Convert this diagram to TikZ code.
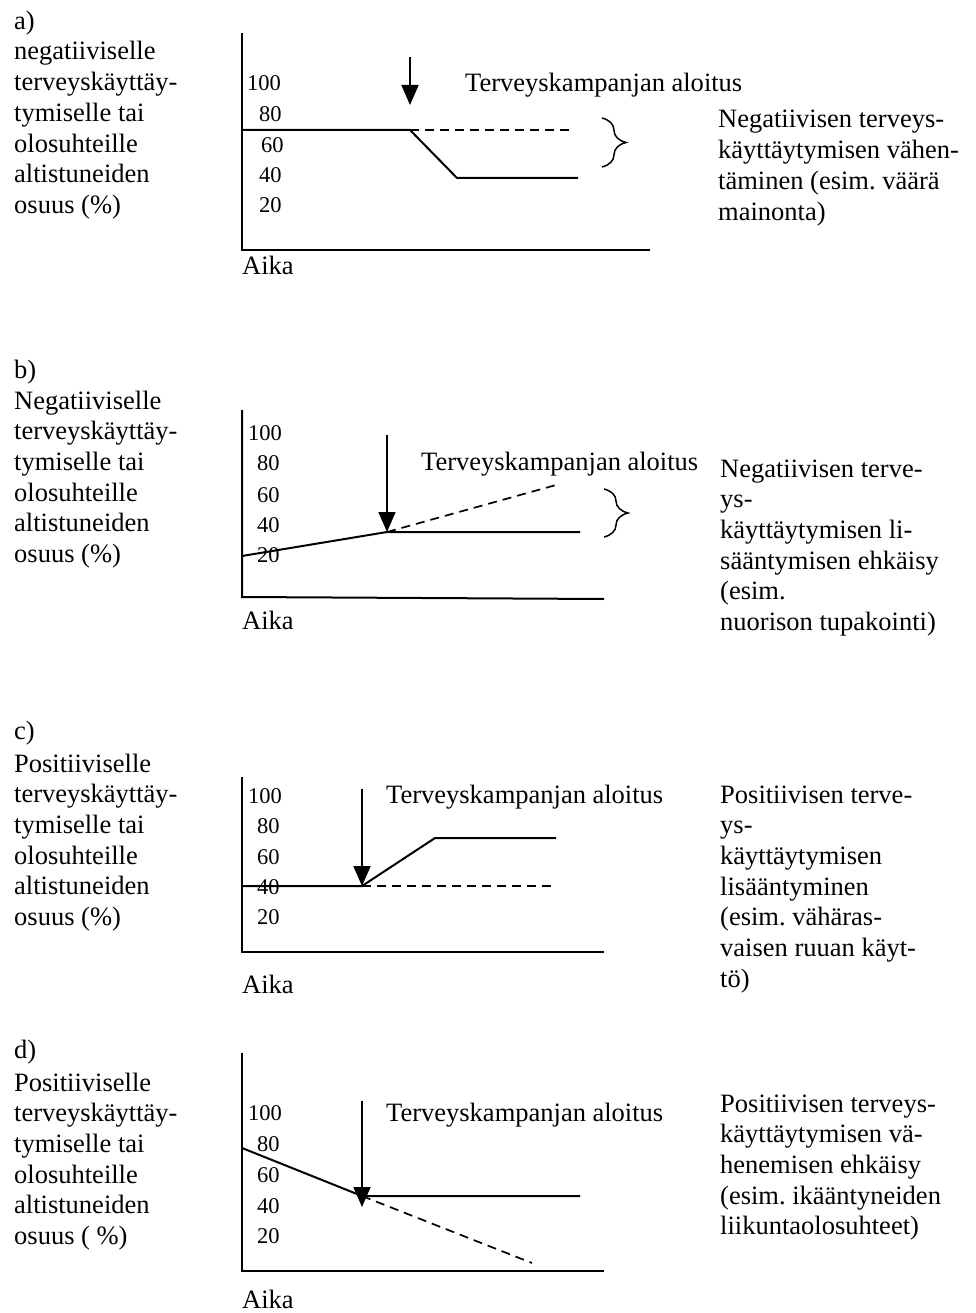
\documentclass[tikz,border=0pt]{standalone}
\usepackage{fontspec}
\setmainfont{Liberation Serif}
\usepackage{tikz}
\usepackage{xcolor}
\usetikzlibrary{arrows.meta,decorations.pathreplacing}
\frenchspacing

\tikzset{
  % multi-line blocks: base west is the baseline of the last line
  txt/.style={anchor=base west,align=left,inner sep=0pt},
  ticklbl/.style={anchor=base west,inner sep=0pt,font=\fontsize{22.5}{27}\selectfont},
  axisline/.style={line width=2pt},
  trend/.style={line width=2pt},
  oldtrend/.style={line width=1.7pt,dash pattern=on 9pt off 6pt},
  startarrow/.style={line width=1.8pt,-{Triangle[length=20pt,width=17pt]}},
  bracket/.style={line width=1.5pt,decorate,decoration={brace,amplitude=24pt}}
}

\begin{document}
\begin{tikzpicture}[x=1pt,y=-1pt,every node/.style={font=\fontsize{26.5}{30.7}\selectfont}]
\useasboundingbox (0,0) rectangle (976,1313);
% a)
\node[txt] (a-tag) at (14,30) {a)};
\node[txt] (a-ylab) at (14,213.5) {negatiiviselle\\terveyskäyttäy-\\tymiselle tai\\olosuhteille\\altistuneiden\\osuus (\%)};
\draw[axisline] (242,33) -- (242,250) -- (650,250);
\node[ticklbl] (a-100) at (247,91) {100};
\node[ticklbl] (a-80) at (259,122) {80};
\node[ticklbl] (a-60) at (261,153) {60};
\node[ticklbl] (a-40) at (259,183) {40};
\node[ticklbl] (a-20) at (259,213) {20};
\node[txt] (a-start) at (465,92) {Terveyskampanjan aloitus};
\coordinate (a-top) at (410,57);
\coordinate (a-turn) at (410,130);
\draw[startarrow] (a-top) -- (410,105);
\draw[trend] (242,130) -- (a-turn) -- (457,178) -- (578,178);
\draw[oldtrend] (a-turn) -- (570,130);
\draw[bracket] (602,118) -- (602,167);
\node[txt] (a-note) at (718,220.1) {Negatiivisen terveys-\\käyttäytymisen vähen-\\täminen (esim. väärä\\mainonta)};
\node[txt] (a-time) at (242,275) {Aika};
% b)
\node[txt] (b-tag) at (14,378) {b)};
\node[txt] (b-ylab) at (14,562.5) {Negatiiviselle\\terveyskäyttäy-\\tymiselle tai\\olosuhteille\\altistuneiden\\osuus (\%)};
\draw[axisline] (242,410) -- (242,597) -- (604,599);
\node[ticklbl] (b-100) at (248,440) {100};
\node[ticklbl] (b-80) at (257,470) {80};
\node[ticklbl] (b-60) at (257,502) {60};
\node[ticklbl] (b-40) at (257,532) {40};
\node[ticklbl] (b-20) at (257,562) {20};
\node[txt] (b-start) at (421,470) {Terveyskampanjan aloitus};
\coordinate (b-turn) at (387,532);
\draw[startarrow] (387,435) -- (b-turn);
\draw[trend] (242,556) -- (b-turn) -- (580,532);
\draw[oldtrend] (b-turn) -- (556,485);
\draw[bracket] (604,489) -- (604,537);
\node[txt] (b-note) at (720,630.5) {Negatiivisen terve-\\ys-\\käyttäytymisen li-\\sääntymisen ehkäisy\\(esim.\\nuorison tupakointi)};
\node[txt] (b-time) at (242,629) {Aika};
% c)
\node[txt] (c-tag) at (14,739) {c)};
\node[txt] (c-ylab) at (14,925.5) {Positiiviselle\\terveyskäyttäy-\\tymiselle tai\\olosuhteille\\altistuneiden\\osuus (\%)};
\draw[axisline] (242,777) -- (242,952) -- (604,952);
\node[ticklbl] (c-100) at (248,803) {100};
\node[ticklbl] (c-80) at (257,833) {80};
\node[ticklbl] (c-60) at (257,864) {60};
\node[ticklbl] (c-40) at (257,894) {40};
\node[ticklbl] (c-20) at (257,924) {20};
\node[txt] (c-start) at (386,803) {Terveyskampanjan aloitus};
\coordinate (c-turn) at (362,886);
\draw[startarrow] (362,789) -- (c-turn);
\draw[trend] (242,886) -- (c-turn) -- (435,838) -- (556,838);
\draw[oldtrend] (c-turn) -- (553,886);
\node[txt] (c-note) at (720,987.2) {Positiivisen terve-\\ys-\\käyttäytymisen\\lisääntyminen\\(esim. vähäras-\\vaisen ruuan käyt-\\tö)};
\node[txt] (c-time) at (242,993) {Aika};
% d)
\node[txt] (d-tag) at (14,1058) {d)};
\node[txt] (d-ylab) at (14,1244.5) {Positiiviselle\\terveyskäyttäy-\\tymiselle tai\\olosuhteille\\altistuneiden\\osuus ( \%)};
\draw[axisline] (242,1053) -- (242,1271) -- (604,1271);
\node[ticklbl] (d-100) at (248,1120) {100};
\node[ticklbl] (d-80) at (257,1151) {80};
\node[ticklbl] (d-60) at (257,1182) {60};
\node[ticklbl] (d-40) at (257,1213) {40};
\node[ticklbl] (d-20) at (257,1243) {20};
\node[txt] (d-start) at (386,1121) {Terveyskampanjan aloitus};
\coordinate (d-turn) at (362,1196);
\draw[startarrow] (362,1101) -- (362,1207);
\draw[trend] (242,1148) -- (d-turn) -- (580,1196);
\draw[oldtrend] (d-turn) -- (532,1263);
\node[txt] (d-note) at (720,1234.8) {Positiivisen terveys-\\käyttäytymisen vä-\\henemisen ehkäisy\\(esim. ikääntyneiden\\liikuntaolosuhteet)};
\node[txt] (d-time) at (242,1308) {Aika};
\end{tikzpicture}
\end{document}
